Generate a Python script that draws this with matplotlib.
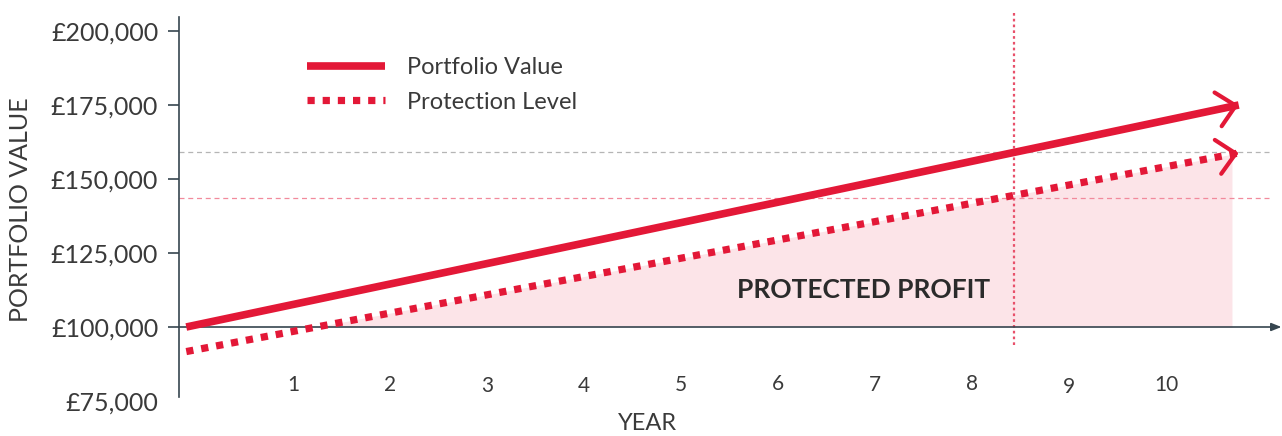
import matplotlib.pyplot as plt
import numpy as np

# data
years = [-0.1, 10.75]
portfolio = [100000, 175000]
protection = [91700, 158800]
lock_year = 8.43
locked_value = 159000
protected_value = 143500
year_ticks = [1, 2, 3, 4, 5, 6, 7, 8, 9, 10]
year_label_y = [80400, 80400, 80000, 80200, 80400, 80800, 80400, 80800, 79600, 80400]
value_ticks = [75000, 100000, 125000, 150000, 175000, 200000]
value_labels = ['£75,000', '£100,000', '£125,000', '£150,000', '£175,000', '£200,000']

RED = '#e31837'
PINK_FILL = '#fce4e8'
DARK = '#36454f'
TXT = '#3a3a3a'
FONT = 'Lato'

W, H = 1282, 436
fig = plt.figure(figsize=(W / 100, H / 100), dpi=100)
ax = fig.add_axes([179 / W, 35 / H, (W - 179) / W, (401 - 17) / H])
ax.set_xlim(-0.175, 11.196)
ax.set_ylim(75000, 204730)

for s in ['top', 'right', 'bottom']:
    ax.spines[s].set_visible(False)
ax.spines['left'].set_color(DARK)
ax.spines['left'].set_linewidth(1.2)
ax.spines['left'].set_bounds(76350, 204730)

ax.set_xticks([])
ax.set_yticks(value_ticks)
ax.set_yticklabels(value_labels, fontsize=18, color=TXT, fontfamily=FONT)
ax.tick_params(axis='y', length=8, width=1.2, color=DARK, pad=7)
ax.yaxis.get_major_ticks()[0].tick1line.set_visible(False)

# x axis with arrow
ax.annotate('', xy=(11.19, 100000), xytext=(-0.175, 100000),
            arrowprops=dict(arrowstyle='-|>,head_length=0.5,head_width=0.2', lw=1.2,
                            color=DARK, shrinkA=0, shrinkB=0, mutation_scale=12),
            annotation_clip=False, zorder=3)

# protected profit area
fill_end = 10.68
fx = np.array([years[0], fill_end])
fy = np.interp(fx, years, protection)
ax.fill_between(fx, fy, 100000, where=fy >= 100000, interpolate=True,
                color=PINK_FILL, lw=0, zorder=1)

# reference levels
ax.axhline(locked_value, xmax=(11.07 + 0.175) / 11.371, color='#b5b5b5', lw=0.9,
           ls=(0, (4, 3)), zorder=1)
ax.axhline(protected_value, xmax=(11.07 + 0.175) / 11.371, color='#f28a9c', lw=0.9,
           ls=(0, (4, 3)), zorder=1)
ax.vlines(lock_year, 93900, 207100, color='#e8506a', lw=1.6, ls=(0, (1.2, 1.4)),
          clip_on=False, zorder=2)

# lines
ax.plot(years, portfolio, color=RED, lw=5.5, solid_capstyle='butt', zorder=4,
        label='Portfolio Value')
ax.plot(years, protection, color=RED, lw=5.2, ls=(0, (1, 1.1)), dash_capstyle='butt',
        zorder=4, label='Protection Level')

for series in (portfolio, protection):
    x1 = years[-1]
    x0 = x1 - 0.05
    ax.annotate('', xy=(x1, series[-1]), xytext=(x0, np.interp(x0, years, series)),
                arrowprops=dict(arrowstyle='->,head_length=0.65,head_width=0.62', lw=3,
                                color=RED, shrinkA=0, shrinkB=0, mutation_scale=20),
                zorder=5)

ax.text(6.88, 112400, 'PROTECTED PROFIT', fontsize=19, fontweight='bold',
        fontfamily=FONT, color='#2b2b2b', ha='center', va='center', zorder=5)

for yr, yl in zip(year_ticks, year_label_y):
    ax.text(yr, yl, str(yr), fontsize=15, fontfamily=FONT, color=TXT,
            ha='center', va='center')

fig.text(648 / W, 1 - 423 / H, 'YEAR', fontsize=17, fontfamily=FONT, color=TXT,
         ha='center', va='center')
fig.text(21 / W, 1 - 210 / H, 'PORTFOLIO VALUE', fontsize=18, fontfamily=FONT,
         color=TXT, ha='center', va='center', rotation=90)

leg = ax.legend(loc='upper left', bbox_to_anchor=(307 / W, 1 - 57 / H),
                bbox_transform=fig.transFigure, frameon=False,
                handlelength=3.3, handletextpad=0.93, labelspacing=0.58,
                borderpad=0, borderaxespad=0, prop={'family': FONT, 'size': 17})
for t in leg.get_texts():
    t.set_color(TXT)

fig.savefig('out.png', dpi=100)
